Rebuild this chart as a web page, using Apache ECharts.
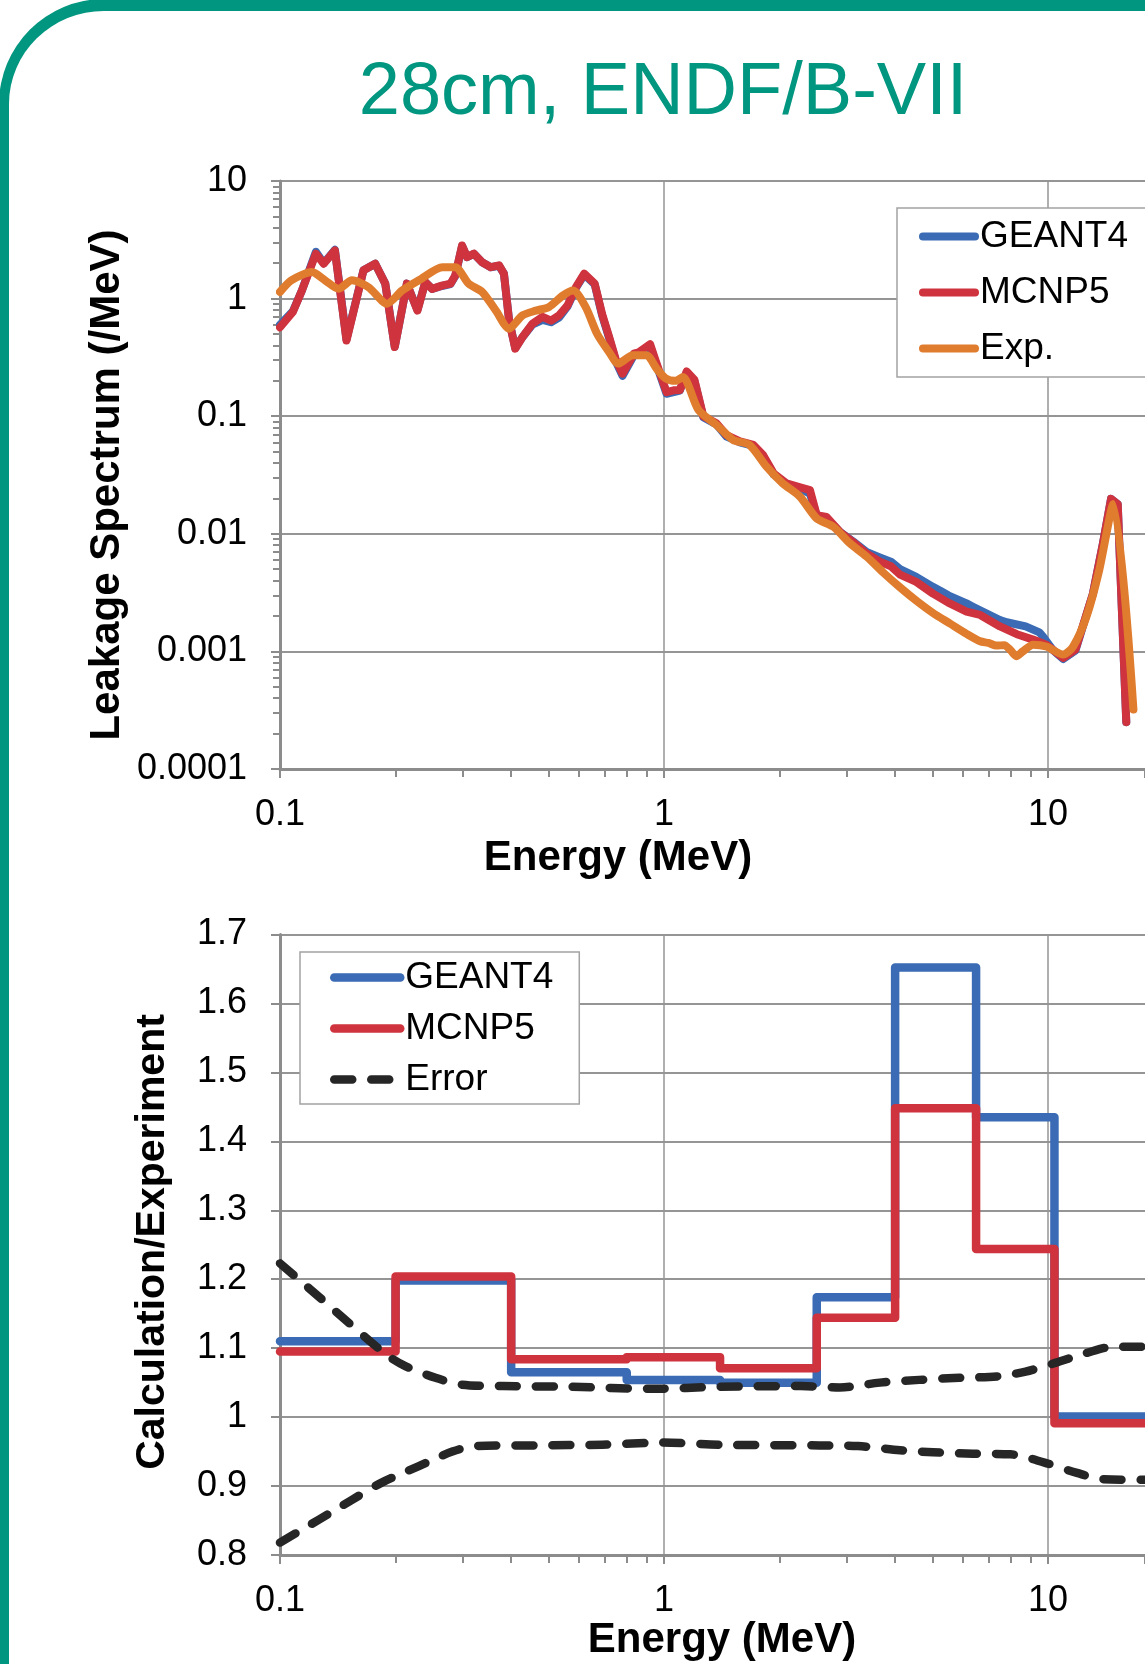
<!DOCTYPE html>
<html>
<head>
<meta charset="UTF-8">
<title>28cm, ENDF/B-VII</title>
<script src="https://cdn.jsdelivr.net/npm/echarts@6/dist/echarts.min.js"></script>
<style>
  body{margin:0;background:#fff}
  #frame{position:absolute;left:-1px;top:-1px;width:1400px;height:1900px;box-sizing:border-box;
         border-top:12px solid #00967f;border-left:10px solid #00967f;border-top-left-radius:105px}
  #main{position:absolute;left:0;top:0;width:1145px;height:1664px}
</style>
</head>
<body>
<div id="frame"></div>
<div id="main"></div>
<script type="text/javascript">
// ---- tick labels ----
var energyTicks = ['0.1', '1', '10'];
var spectrumTicks = ['0.0001', '0.001', '0.01', '0.1', '1', '10'];

// ---- leakage spectrum (top) ----
var geantE = [0.1, 0.108, 0.114, 0.124, 0.13, 0.139, 0.149, 0.165, 0.177, 0.188, 0.199, 0.21, 0.214, 0.228, 0.239, 0.249, 0.264, 0.278, 0.286, 0.298, 0.307, 0.32, 0.336, 0.354, 0.372, 0.383, 0.395, 0.41, 0.428, 0.454, 0.483, 0.508, 0.533, 0.561, 0.59, 0.62, 0.66, 0.69, 0.72, 0.75, 0.78, 0.835, 0.86, 0.92, 0.95, 1.016, 1.06, 1.1, 1.146, 1.2, 1.266, 1.37, 1.456, 1.577, 1.71, 1.81, 1.93, 2.085, 2.3, 2.4, 2.5, 2.65, 2.87, 3.11, 3.37, 3.65, 3.9, 4.12, 4.54, 5.02, 5.23, 5.5, 6.14, 6.38, 7.5, 7.81, 8.75, 9.5, 9.7, 10.3, 10.96, 11.8, 13.1, 13.9, 14.6, 15.2, 16.0];
var geantV = [0.6, 0.78, 1.17, 2.5, 2.0, 2.6, 0.45, 1.74, 1.98, 1.34, 0.39, 0.965, 1.34, 0.8, 1.38, 1.21, 1.28, 1.33, 1.55, 2.8, 2.25, 2.4, 2.04, 1.85, 1.9, 1.63, 0.66, 0.38, 0.47, 0.6, 0.66, 0.63, 0.69, 0.86, 1.23, 1.6, 1.32, 0.72, 0.46, 0.29, 0.22, 0.33, 0.34, 0.4, 0.29, 0.155, 0.16, 0.165, 0.235, 0.2, 0.098, 0.085, 0.067, 0.06, 0.056, 0.046, 0.032, 0.0265, 0.0235, 0.022, 0.0142, 0.0136, 0.0104, 0.0086, 0.007, 0.0063, 0.0058, 0.005, 0.0043, 0.00354, 0.0033, 0.003, 0.00256, 0.0024, 0.00185, 0.00177, 0.00163, 0.00145, 0.00134, 0.00103, 0.00086, 0.00102, 0.0031, 0.0082, 0.0198, 0.0179, 0.00025];
var mcnpE = [0.1, 0.108, 0.114, 0.124, 0.13, 0.139, 0.149, 0.165, 0.177, 0.188, 0.199, 0.21, 0.214, 0.228, 0.239, 0.249, 0.264, 0.278, 0.286, 0.298, 0.307, 0.32, 0.336, 0.354, 0.372, 0.383, 0.395, 0.41, 0.428, 0.454, 0.483, 0.508, 0.533, 0.561, 0.59, 0.62, 0.66, 0.69, 0.72, 0.75, 0.78, 0.835, 0.86, 0.92, 0.95, 1.016, 1.06, 1.1, 1.146, 1.2, 1.266, 1.37, 1.456, 1.577, 1.71, 1.81, 1.93, 2.085, 2.3, 2.4, 2.5, 2.65, 2.87, 3.11, 3.37, 3.65, 3.9, 4.12, 4.54, 5.02, 5.5, 6.14, 6.66, 7.5, 8.3, 9.15, 9.9, 10.96, 11.8, 13.1, 13.9, 14.6, 15.2, 16.0];
var mcnpV = [0.57, 0.77, 1.17, 2.41, 1.98, 2.57, 0.44, 1.74, 1.98, 1.34, 0.387, 0.965, 1.34, 0.79, 1.38, 1.21, 1.29, 1.34, 1.57, 2.83, 2.25, 2.41, 2.04, 1.85, 1.92, 1.63, 0.65, 0.375, 0.47, 0.61, 0.7, 0.65, 0.72, 0.875, 1.25, 1.63, 1.34, 0.74, 0.47, 0.3, 0.23, 0.34, 0.35, 0.41, 0.3, 0.16, 0.166, 0.167, 0.24, 0.204, 0.1, 0.087, 0.069, 0.061, 0.057, 0.047, 0.0327, 0.0268, 0.0245, 0.0235, 0.0144, 0.0139, 0.0104, 0.0085, 0.0068, 0.0058, 0.0053, 0.0045, 0.0039, 0.0031, 0.0026, 0.00218, 0.00204, 0.00163, 0.0014, 0.00126, 0.00114, 0.00088, 0.00104, 0.0031, 0.0082, 0.0198, 0.0179, 0.00025];
var expE = [0.1, 0.107, 0.121, 0.131, 0.142, 0.154, 0.17, 0.19, 0.208, 0.23, 0.265, 0.286, 0.31, 0.336, 0.365, 0.395, 0.428, 0.464, 0.502, 0.545, 0.58, 0.625, 0.67, 0.72, 0.76, 0.83, 0.9, 0.96, 1.01, 1.07, 1.12, 1.23, 1.37, 1.515, 1.67, 1.85, 2.04, 2.26, 2.5, 2.76, 3.05, 3.37, 3.72, 4.12, 4.54, 5.02, 5.55, 6.14, 6.66, 7.0, 7.34, 7.7, 8.0, 8.27, 8.6, 9.15, 9.9, 10.96, 11.63, 12.6, 13.6, 14.8, 16.7];
var expV = [1.14, 1.43, 1.68, 1.43, 1.21, 1.43, 1.25, 0.905, 1.17, 1.43, 1.85, 1.85, 1.34, 1.14, 0.79, 0.555, 0.72, 0.79, 0.85, 1.06, 1.17, 0.85, 0.5, 0.35, 0.28, 0.33, 0.33, 0.25, 0.21, 0.2, 0.215, 0.113, 0.0843, 0.0628, 0.057, 0.0372, 0.0268, 0.0207, 0.0135, 0.0115, 0.0083, 0.0064, 0.0047, 0.0035, 0.0027, 0.00212, 0.00173, 0.00141, 0.00122, 0.00118, 0.00112, 0.00113, 0.00102, 0.00091, 0.001, 0.00114, 0.0011, 0.00094, 0.0011, 0.00197, 0.0049, 0.0179, 0.00032];

// ---- calculation / experiment (bottom) ----
var binEdges = [0.1, 0.2, 0.4, 0.8, 1.4, 2.5, 4.0, 6.5, 10.4, 20];
var geantRatio = [1.11, 1.198, 1.065, 1.054, 1.05, 1.174, 1.652, 1.435, 1.001];
var mcnpRatio = [1.095, 1.204, 1.084, 1.087, 1.071, 1.144, 1.448, 1.244, 0.991];
var errHiE = [0.1, 0.126, 0.148, 0.17, 0.192, 0.212, 0.254, 0.298, 0.38, 0.566, 0.935, 1.4, 2.27, 2.87, 3.65, 4.62, 5.88, 7.36, 8.75, 10.5, 12.6, 14.8, 17.9, 20];
var errHi = [1.223, 1.175, 1.141, 1.112, 1.088, 1.074, 1.057, 1.047, 1.045, 1.044, 1.041, 1.044, 1.045, 1.043, 1.05, 1.054, 1.057, 1.059, 1.066, 1.079, 1.093, 1.102, 1.102, 1.102];
var errLoE = [0.1, 0.126, 0.154, 0.184, 0.23, 0.281, 0.323, 0.464, 0.69, 0.99, 1.4, 2.54, 3.2, 4.12, 5.02, 6.38, 8.0, 9.8, 11.9, 13.9, 17.9, 20];
var errLo = [0.818, 0.851, 0.88, 0.905, 0.929, 0.95, 0.958, 0.959, 0.96, 0.963, 0.96, 0.959, 0.958, 0.952, 0.949, 0.947, 0.946, 0.934, 0.919, 0.91, 0.909, 0.909];

var FONT = '"Liberation Sans", Arial, sans-serif';
var BLUE = '#3a6bb4', RED = '#cf333e', ORANGE = '#e07c2e', DARK = '#262626';
var AXIS = '#8c8c8c', GRID = '#959595', TEAL = '#00967f';
var E_MAX = 17.9; // right edge of the picture cuts the plot here

function pairs(xs, ys) {
  return xs.map(function (x, i) { return [x, ys[i]]; });
}
function steps(edges, vals) {
  var out = edges.slice(0, vals.length).map(function (e, i) { return [e, vals[i]]; });
  out.push([edges[edges.length - 1], vals[vals.length - 1]]);
  return out;
}
function logLabel(list) {
  return function (v) {
    for (var i = 0; i < list.length; i++) {
      if (Math.abs(Math.log10(parseFloat(list[i])) - Math.log10(v)) < 1e-6) return list[i];
    }
    return '';
  };
}
function logMinors(lo, hi) {
  var out = [];
  for (var p = lo; p < hi; p++)
    for (var k = 2; k <= 9; k++) out.push(+(k * Math.pow(10, p)).toPrecision(3));
  return out;
}

var labelStyle = { fontSize: 36, color: '#000', fontFamily: FONT };
function mainX(grid) {
  return {
    type: 'log', gridIndex: grid, min: 0.1, max: E_MAX, position: 'bottom',
    axisLine: { show: true, onZero: false, lineStyle: { color: AXIS, width: 3 } },
    axisTick: { show: true, length: 9, lineStyle: { color: AXIS, width: 2 } },
    axisLabel: Object.assign({ margin: 28, formatter: logLabel(energyTicks) }, labelStyle),
    splitLine: { show: true, showMaxLine: false, lineStyle: { color: GRID, width: 1.5 } }
  };
}
function minorX(grid) {
  return {
    type: 'log', gridIndex: grid, min: 0.1, max: E_MAX, position: 'bottom',
    axisLine: { show: false }, axisLabel: { show: false }, splitLine: { show: false },
    axisTick: { show: true, length: 8, customValues: logMinors(-1, 2), lineStyle: { color: AXIS, width: 2 } }
  };
}
function lineSeries(name, color, width, xi, yi, data, extra) {
  return Object.assign({
    name: name, type: 'line', xAxisIndex: xi, yAxisIndex: yi, data: data,
    symbol: 'none', showSymbol: false,
    itemStyle: { color: color },
    lineStyle: { color: color, width: width, cap: 'round', join: 'round' }
  }, extra || {});
}
function legendBox(left, top, names, w, gap, pad, lw) {
  return {
    orient: 'vertical', left: left, top: top, data: names, selectedMode: false,
    itemWidth: w, itemHeight: 14, itemGap: gap, padding: pad,
    backgroundColor: '#fff', borderColor: '#a3a3a3', borderWidth: 1.5, borderRadius: 0,
    textStyle: { fontSize: 37, color: '#000', fontFamily: FONT },
    lineStyle: { width: lw }, itemStyle: { opacity: 0 }
  };
}
function textEl(txt, x, y, size, weight, color, rot) {
  return {
    type: 'text', x: x, y: y, rotation: rot || 0,
    style: { text: txt, fontSize: size, fontWeight: weight, fontFamily: FONT, fill: color, align: 'center', verticalAlign: 'middle' }
  };
}

var chart = echarts.init(document.getElementById('main'));
var option = {
  animation: false,
  grid: [
    { left: 280, top: 181, right: 0, height: 588, outerBoundsMode: 'none' },
    { left: 280, top: 934.5, right: 0, height: 620.5, outerBoundsMode: 'none' }
  ],
  xAxis: [mainX(0), minorX(0), mainX(1), minorX(1)],
  yAxis: [
    {
      type: 'log', gridIndex: 0, min: 0.0001, max: 10, position: 'left',
      axisLine: { show: true, lineStyle: { color: AXIS, width: 3 } },
      axisTick: { show: true, length: 9, lineStyle: { color: AXIS, width: 2 } },
      axisLabel: Object.assign({ margin: 33, formatter: logLabel(spectrumTicks) }, labelStyle),
      splitLine: { show: true, lineStyle: { color: GRID, width: 2 } }
    },
    {
      type: 'log', gridIndex: 0, min: 0.0001, max: 10, position: 'left',
      axisLine: { show: false }, axisLabel: { show: false }, splitLine: { show: false },
      axisTick: { show: true, length: 7, customValues: logMinors(-4, 1), lineStyle: { color: AXIS, width: 2 } }
    },
    {
      type: 'value', gridIndex: 1, min: 0.8, max: 1.7, interval: 0.1, position: 'left',
      axisLine: { show: true, lineStyle: { color: AXIS, width: 3 } },
      axisTick: { show: true, length: 9, lineStyle: { color: AXIS, width: 2 } },
      axisLabel: Object.assign({ margin: 33 }, labelStyle),
      splitLine: { show: true, lineStyle: { color: GRID, width: 2 } }
    }
  ],
  legend: [
    legendBox(897, 208, ['GEANT4', 'MCNP5', 'Exp.'], 52, 19, [10, 19, 10, 22], 8),
    legendBox(300, 952, ['GEANT4', 'MCNP5', 'Error'], 66, 14, [7, 26, 6, 30], 8.5)
  ],
  graphic: [
    textEl('28cm, ENDF/B-VII', 663, 94, 74, 'normal', TEAL),
    textEl('Energy (MeV)', 618, 858, 42, 'bold', '#000'),
    textEl('Energy (MeV)', 722, 1640, 42, 'bold', '#000'),
    textEl('Leakage Spectrum (/MeV)', 107, 485, 42, 'bold', '#000', Math.PI / 2),
    textEl('Calculation/Experiment', 153, 1242, 41, 'bold', '#000', Math.PI / 2)
  ],
  series: [
    lineSeries('GEANT4', BLUE, 8, 0, 0, pairs(geantE, geantV)),
    lineSeries('MCNP5', RED, 8, 0, 0, pairs(mcnpE, mcnpV)),
    lineSeries('Exp.', ORANGE, 8, 0, 0, pairs(expE, expV), { smooth: 0.25 }),
    lineSeries('GEANT4', BLUE, 8.5, 2, 2, steps(binEdges, geantRatio), { step: 'end' }),
    lineSeries('MCNP5', RED, 8.5, 2, 2, steps(binEdges, mcnpRatio), { step: 'end' }),
    lineSeries('Error', DARK, 8.5, 2, 2, pairs(errHiE, errHi), { smooth: 0.3, lineStyle: { color: DARK, width: 8.5, type: [18, 19], cap: 'round', join: 'round' } }),
    lineSeries('Error', DARK, 8.5, 2, 2, pairs(errLoE, errLo), { smooth: 0.3, lineStyle: { color: DARK, width: 8.5, type: [18, 19], cap: 'round', join: 'round' } })
  ]
};
chart.setOption(option);
</script>
</body>
</html>
